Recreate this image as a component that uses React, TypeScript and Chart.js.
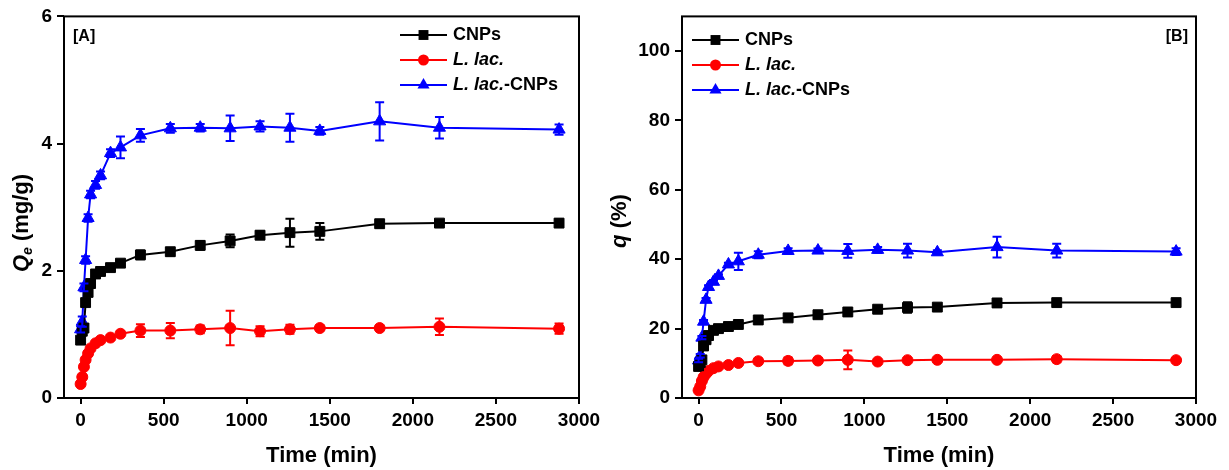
import React, { useEffect, useRef } from "react";
import { Chart, registerables } from "chart.js";

Chart.register(...registerables);

// ---------- data ----------
const times = [0, 10, 20, 30, 45, 60, 90, 120, 180, 240, 360, 540, 720, 900, 1080, 1260, 1440, 1800, 2160, 2880];
const xTicks = [0, 500, 1000, 1500, 2000, 2500, 3000];
const yTicksA = [0, 2, 4, 6];
const yTicksB = [0, 20, 40, 60, 80, 100];

// Panel A: Qe (mg/g)
const qeCNPs = [0.91, 1.05, 1.1, 1.5, 1.66, 1.8, 1.95, 1.99, 2.05, 2.12, 2.25, 2.3, 2.4, 2.47, 2.56, 2.6, 2.62, 2.74, 2.75, 2.75];
const qeCNPsErr = [0.05, 0.05, 0.05, 0.05, 0.05, 0.05, 0.05, 0.04, 0.04, 0.05, 0.07, 0.06, 0.07, 0.1, 0.06, 0.22, 0.13, 0.06, 0.05, 0.06];
const qeLlac = [0.22, 0.33, 0.49, 0.6, 0.7, 0.78, 0.86, 0.91, 0.95, 1.01, 1.06, 1.06, 1.08, 1.1, 1.05, 1.08, 1.1, 1.1, 1.12, 1.09];
const qeLlacErr = [0.03, 0.03, 0.03, 0.03, 0.03, 0.03, 0.03, 0.03, 0.04, 0.04, 0.1, 0.12, 0.06, 0.27, 0.08, 0.07, 0.04, 0.04, 0.13, 0.08];
const qeMix = [1.08, 1.2, 1.74, 2.17, 2.83, 3.2, 3.35, 3.5, 3.85, 3.94, 4.13, 4.24, 4.25, 4.24, 4.27, 4.25, 4.2, 4.35, 4.25, 4.22];
const qeMixErr = [0.05, 0.08, 0.06, 0.06, 0.06, 0.06, 0.06, 0.06, 0.06, 0.17, 0.1, 0.07, 0.06, 0.2, 0.08, 0.22, 0.06, 0.3, 0.17, 0.08];

// Panel B: q (%)
const qCNPs = [9.1, 10.2, 11, 15, 16.8, 18, 19.5, 20, 20.6, 21.2, 22.5, 23.1, 24, 24.8, 25.6, 26.1, 26.2, 27.4, 27.5, 27.5];
const qCNPsErr = [0.5, 0.5, 0.5, 0.5, 0.5, 0.5, 0.5, 0.5, 0.5, 0.5, 0.7, 0.7, 0.7, 0.8, 0.6, 1.5, 1, 0.7, 0.6, 0.6];
const qLlac = [2.2, 3.3, 4.9, 6, 7, 7.8, 8.6, 9.1, 9.5, 10.1, 10.6, 10.7, 10.8, 11, 10.5, 10.9, 11, 11, 11.2, 10.9];
const qLlacErr = [0.4, 0.4, 0.4, 0.4, 0.4, 0.4, 0.4, 0.4, 0.4, 0.4, 0.8, 1, 0.5, 2.7, 0.6, 0.5, 0.4, 0.4, 0.9, 0.6];
const qMix = [10.8, 12.2, 17.4, 22, 28.3, 32, 33.5, 35.2, 38.5, 39.4, 41.3, 42.4, 42.5, 42.4, 42.7, 42.5, 42, 43.5, 42.5, 42.2];
const qMixErr = [0.5, 0.5, 0.5, 0.5, 0.5, 0.5, 0.5, 0.5, 0.5, 2.5, 1, 0.8, 0.6, 2, 0.8, 2, 0.6, 3, 2, 1];

const FONT = "Arial, 'Liberation Sans', Helvetica, sans-serif";
const COLORS = ["#000000", "#ff0000", "#0000ff"];
const STYLES = ["rect", "circle", "triangle"];
const RADII = [7, 5.5, 7];

type Panel = {
  series: number[][];
  errors: number[][];
  yMax: number;
  yTicks: number[];
  areaLeft: number;
  padRight: number;
  titleParts: { text: string; italic: boolean; size: number; dy: number }[];
  titleX: number;
  titleY: number;
  tag: string;
  tagX: number;
  tagAlign: "left" | "right";
  legendX: number;
  legendY: number;
};

function drawMarker(ctx: CanvasRenderingContext2D, style: string, x: number, y: number, r: number) {
  ctx.beginPath();
  if (style === "rect") {
    const s = r * Math.SQRT1_2;
    ctx.rect(x - s, y - s, 2 * s, 2 * s);
  } else if (style === "circle") {
    ctx.arc(x, y, r, 0, Math.PI * 2);
  } else {
    const a = (2 * Math.PI) / 3;
    ctx.moveTo(x, y - r);
    ctx.lineTo(x + Math.sin(a) * r, y - Math.cos(a) * r);
    ctx.lineTo(x + Math.sin(2 * a) * r, y - Math.cos(2 * a) * r);
    ctx.closePath();
  }
  ctx.fill();
}

function makePlugin(p: Panel) {
  return {
    id: "decor",
    beforeDatasetsDraw(chart: any) {
      const { ctx, chartArea } = chart;
      ctx.save();
      ctx.strokeStyle = "#000";
      ctx.lineWidth = 2;
      ctx.strokeRect(chartArea.left, chartArea.top, chartArea.right - chartArea.left, chartArea.bottom - chartArea.top);
      ctx.restore();
    },
    afterDatasetsDraw(chart: any) {
      const { ctx, chartArea } = chart;
      const xs = chart.scales.x;
      const ys = chart.scales.y;
      // error bars
      chart.data.datasets.forEach((ds: any, i: number) => {
        ctx.save();
        ctx.strokeStyle = ds.borderColor;
        ctx.lineWidth = 2;
        ds.data.forEach((pt: any, j: number) => {
          const e = p.errors[i][j];
          const x = xs.getPixelForValue(pt.x);
          const y1 = ys.getPixelForValue(pt.y + e);
          const y2 = ys.getPixelForValue(pt.y - e);
          ctx.beginPath();
          ctx.moveTo(x, y1);
          ctx.lineTo(x, y2);
          ctx.moveTo(x - 4.5, y1);
          ctx.lineTo(x + 4.5, y1);
          ctx.moveTo(x - 4.5, y2);
          ctx.lineTo(x + 4.5, y2);
          ctx.stroke();
        });
        ctx.restore();
      });
      // legend
      ctx.save();
      ctx.textBaseline = "middle";
      ctx.textAlign = "left";
      chart.data.datasets.forEach((ds: any, i: number) => {
        const y = p.legendY + i * 25;
        const x0 = p.legendX;
        ctx.strokeStyle = COLORS[i];
        ctx.fillStyle = COLORS[i];
        ctx.lineWidth = 2;
        ctx.beginPath();
        ctx.moveTo(x0, y);
        ctx.lineTo(x0 + 47, y);
        ctx.stroke();
        drawMarker(ctx, STYLES[i], x0 + 23.5, y, RADII[i]);
        ctx.fillStyle = "#000";
        let tx = x0 + 53;
        const label: string = ds.label;
        const parts: [string, boolean][] = label.startsWith("L. lac.")
          ? [["L. lac.", true], [label.slice(7), false]]
          : [[label, false]];
        parts.forEach(([t, it]) => {
          if (!t) return;
          ctx.font = `${it ? "italic " : ""}bold 18px ${FONT}`;
          ctx.fillText(t, tx, y);
          tx += ctx.measureText(t).width;
        });
      });
      // panel tag
      ctx.font = `bold 16px ${FONT}`;
      ctx.textAlign = p.tagAlign;
      ctx.fillText(p.tag, p.tagAlign === "left" ? chartArea.left + p.tagX : chartArea.right - p.tagX, 37);
      // y title (rotated, rich text)
      ctx.translate(p.titleX, p.titleY);
      ctx.rotate(-Math.PI / 2);
      let total = 0;
      p.titleParts.forEach((tp) => {
        ctx.font = `${tp.italic ? "italic " : ""}bold ${tp.size}px ${FONT}`;
        total += ctx.measureText(tp.text).width;
      });
      let cx = -total / 2;
      ctx.textAlign = "left";
      ctx.textBaseline = "alphabetic";
      p.titleParts.forEach((tp) => {
        ctx.font = `${tp.italic ? "italic " : ""}bold ${tp.size}px ${FONT}`;
        ctx.fillText(tp.text, cx, 8 + tp.dy);
        cx += ctx.measureText(tp.text).width;
      });
      ctx.restore();
    },
  };
}

function ChartPanel({ p, left, width }: { p: Panel; left: number; width: number }) {
  const ref = useRef<HTMLCanvasElement | null>(null);
  useEffect(() => {
    if (!ref.current) return;
    const names = ["CNPs", "L. lac.", "L. lac.-CNPs"];
    const tickFont = { family: FONT, size: 19, weight: "bold" };
    const chart = new Chart(ref.current, {
      type: "line",
      data: {
        datasets: p.series.map((vals, i) => ({
          label: names[i],
          data: times.map((t, j) => ({ x: t, y: vals[j] })),
          borderColor: COLORS[i],
          backgroundColor: COLORS[i],
          pointBackgroundColor: COLORS[i],
          pointBorderColor: COLORS[i],
          borderWidth: 2,
          pointStyle: STYLES[i] as any,
          pointRadius: RADII[i],
          pointBorderWidth: 1,
          tension: 0,
          fill: false,
        })),
      },
      options: {
        animation: false,
        responsive: false,
        maintainAspectRatio: false,
        events: [],
        layout: { padding: { left: 0, top: 16, right: p.padRight, bottom: 0 } },
        plugins: { legend: { display: false }, tooltip: { enabled: false }, title: { display: false } },
        scales: {
          x: {
            type: "linear",
            min: -100,
            max: 3000,
            afterBuildTicks: (s: any) => {
              s.ticks = xTicks.map((v) => ({ value: v }));
            },
            afterFit: (s: any) => {
              s.height = 72;
            },
            grid: { drawOnChartArea: false, drawTicks: true, tickLength: 6, color: "#000", lineWidth: 2 },
            border: { display: false },
            ticks: {
              color: "#000",
              font: tickFont,
              padding: 5,
              maxRotation: 0,
              autoSkip: false,
              callback: (v: any) => String(v),
            },
            title: { display: true, text: "Time (min)", color: "#000", font: { family: FONT, size: 22, weight: "bold" }, padding: { top: 0, bottom: 1 } },
          },
          y: {
            type: "linear",
            min: 0,
            max: p.yMax,
            afterBuildTicks: (s: any) => {
              s.ticks = p.yTicks.map((v) => ({ value: v }));
            },
            afterFit: (s: any) => {
              s.width = p.areaLeft;
            },
            grid: { drawOnChartArea: false, drawTicks: true, tickLength: 7, color: "#000", lineWidth: 2 },
            border: { display: false },
            ticks: { color: "#000", font: tickFont, padding: 5, autoSkip: false, callback: (v: any) => String(v) },
          },
        },
      } as any,
      plugins: [makePlugin(p) as any],
    });
    return () => chart.destroy();
  }, [p]);
  return (
    <canvas
      ref={ref}
      width={width}
      height={470}
      style={{ position: "absolute", left, top: 0, width, height: 470 }}
    />
  );
}

const panelA: Panel = {
  series: [qeCNPs, qeLlac, qeMix],
  errors: [qeCNPsErr, qeLlacErr, qeMixErr],
  yMax: 6,
  yTicks: yTicksA,
  areaLeft: 64,
  padRight: 31,
  titleParts: [
    { text: "Q", italic: true, size: 22, dy: 0 },
    { text: "e", italic: true, size: 14, dy: 4 },
    { text: " (mg/g)", italic: false, size: 22, dy: 0 },
  ],
  titleX: 20,
  titleY: 223,
  tag: "[A]",
  tagX: 9,
  tagAlign: "left",
  legendX: 400,
  legendY: 35,
};

const panelB: Panel = {
  series: [qCNPs, qLlac, qMix],
  errors: [qCNPsErr, qLlacErr, qMixErr],
  yMax: 110,
  yTicks: yTicksB,
  areaLeft: 87,
  padRight: 33,
  titleParts: [
    { text: "q", italic: true, size: 22, dy: 0 },
    { text: " (%)", italic: false, size: 22, dy: 0 },
  ],
  titleX: 23,
  titleY: 221,
  tag: "[B]",
  tagX: 8,
  tagAlign: "right",
  legendX: 97,
  legendY: 40,
};

export default function App() {
  return (
    <div style={{ position: "fixed", left: 0, top: 0, width: 1229, height: 470, background: "#fff", overflow: "hidden" }}>
      <ChartPanel p={panelA} left={0} width={610} />
      <ChartPanel p={panelB} left={595} width={634} />
    </div>
  );
}
